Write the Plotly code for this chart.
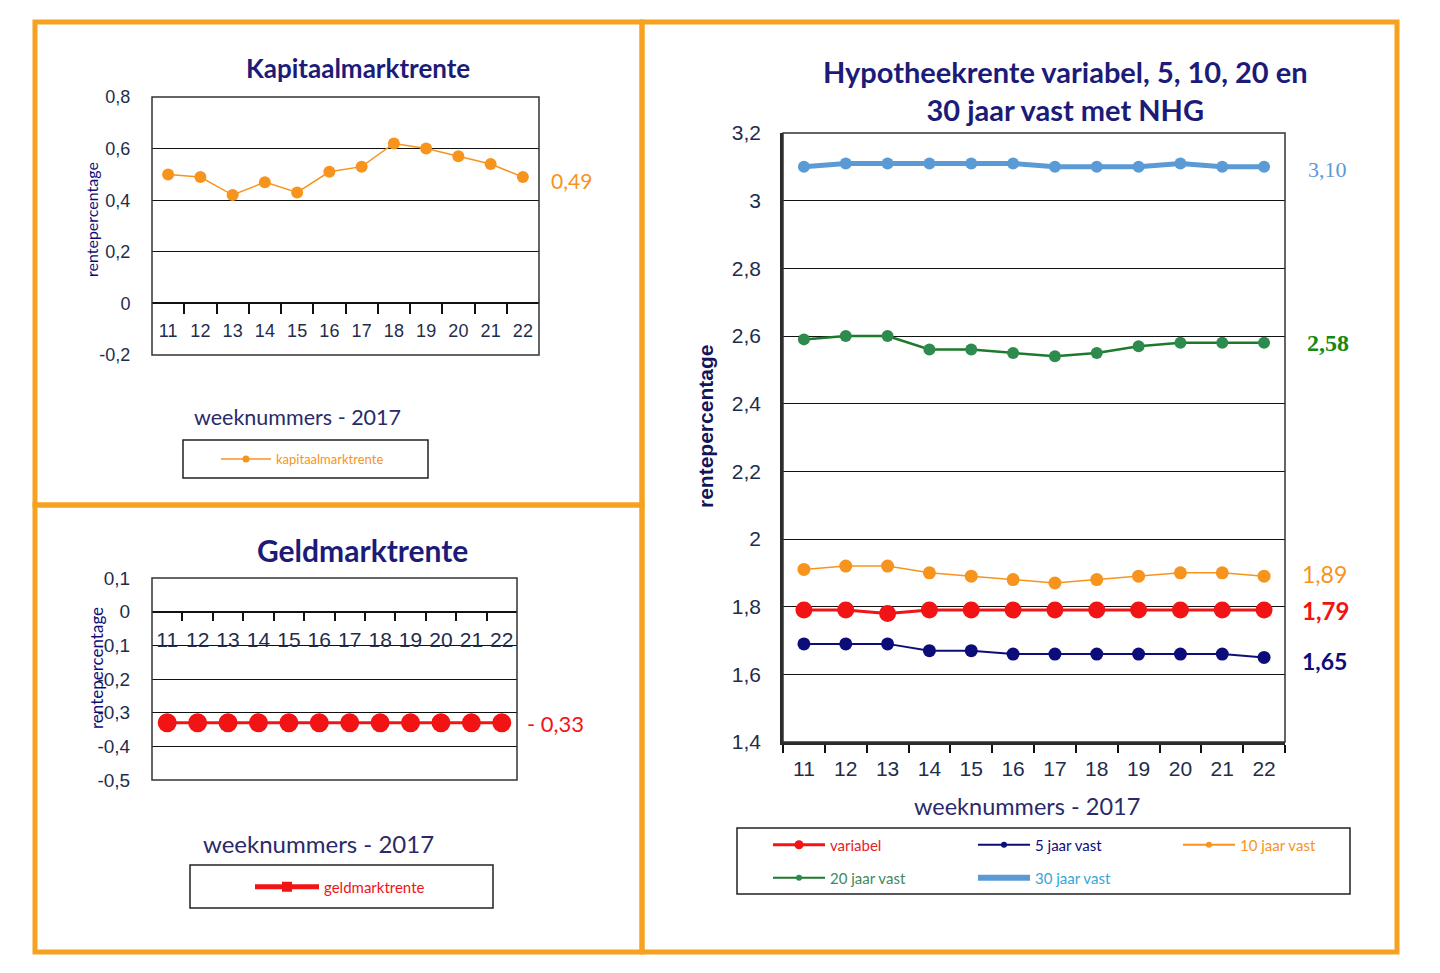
import plotly.graph_objects as go

# ---------------- data ----------------
weeks = [11, 12, 13, 14, 15, 16, 17, 18, 19, 20, 21, 22]
week_labels = ["11", "12", "13", "14", "15", "16", "17", "18", "19", "20", "21", "22"]

kapitaalmarktrente = [0.50, 0.49, 0.42, 0.47, 0.43, 0.51, 0.53, 0.62, 0.60, 0.57, 0.54, 0.49]
geldmarktrente = [-0.33, -0.33, -0.33, -0.33, -0.33, -0.33, -0.33, -0.33, -0.33, -0.33, -0.33, -0.33]

variabel = [1.79, 1.79, 1.78, 1.79, 1.79, 1.79, 1.79, 1.79, 1.79, 1.79, 1.79, 1.79]
vast_5 = [1.69, 1.69, 1.69, 1.67, 1.67, 1.66, 1.66, 1.66, 1.66, 1.66, 1.66, 1.65]
vast_10 = [1.91, 1.92, 1.92, 1.90, 1.89, 1.88, 1.87, 1.88, 1.89, 1.90, 1.90, 1.89]
vast_20 = [2.59, 2.60, 2.60, 2.56, 2.56, 2.55, 2.54, 2.55, 2.57, 2.58, 2.58, 2.58]
vast_30 = [3.10, 3.11, 3.11, 3.11, 3.11, 3.11, 3.10, 3.10, 3.10, 3.11, 3.10, 3.10]

kap_ticks = [-0.2, 0, 0.2, 0.4, 0.6, 0.8]
kap_ticklabels = ["-0,2", "0", "0,2", "0,4", "0,6", "0,8"]
geld_ticks = [-0.5, -0.4, -0.3, -0.2, -0.1, 0, 0.1]
geld_ticklabels = ["-0,5", "-0,4", "-0,3", "-0,2", "-0,1", "0", "0,1"]
hyp_ticks = [1.4, 1.6, 1.8, 2.0, 2.2, 2.4, 2.6, 2.8, 3.0, 3.2]
hyp_ticklabels = ["1,4", "1,6", "1,8", "2", "2,2", "2,4", "2,6", "2,8", "3", "3,2"]

# ---------------- style ----------------
W, H = 1440, 973
ORANGE = "#F7941D"
FRAME_ORANGE = "#F6A11F"
RED = "#F21414"
NAVY = "#0D0D7A"
GREEN = "#2E8B4E"
GREEN_LINE = "#1C7A2C"
LIGHTBLUE = "#5B9BD5"
TITLE_NAVY = "#1C1C78"
TICK_COL = "#1F2D4D"
SANS = "Lato"
ARIAL = "Liberation Sans, Arial"
SERIF = "Liberation Serif, Times New Roman"


def fx(px):
    return px / W


def fy(px):
    return 1 - px / H


boundaries = [w - 0.5 for w in weeks] + [weeks[-1] + 0.5]
xrange_ = [weeks[0] - 0.5, weeks[-1] + 0.5]

kap_dom_y = [fy(355), fy(97)]
geld_dom_y = [fy(780), fy(578)]
hyp_dom_y = [fy(742), fy(133)]


def zero_pos(dom, rng):
    return dom[0] + (0 - rng[0]) / (rng[1] - rng[0]) * (dom[1] - dom[0])


kap_range = [kap_ticks[0], kap_ticks[-1]]
geld_range = [geld_ticks[0], geld_ticks[-1]]
hyp_range = [hyp_ticks[0], hyp_ticks[-1]]

fig = go.Figure()

# ---- Kapitaalmarktrente ----
fig.add_trace(go.Scatter(x=weeks, y=kapitaalmarktrente, xaxis="x", yaxis="y",
                         mode="lines+markers", line=dict(color=ORANGE, width=1.5),
                         marker=dict(size=12, color=ORANGE), showlegend=False))
fig.add_trace(go.Scatter(x=[None], y=[None], xaxis="x", yaxis="y", mode="lines+markers",
                         line=dict(color=ORANGE, width=1.5), marker=dict(size=7, color=ORANGE),
                         name="kapitaalmarktrente", legend="legend"))

# ---- Geldmarktrente ----
fig.add_trace(go.Scatter(x=weeks, y=geldmarktrente, xaxis="x2", yaxis="y2",
                         mode="lines+markers", line=dict(color=RED, width=3),
                         marker=dict(size=19, color=RED), showlegend=False))
fig.add_trace(go.Scatter(x=[None], y=[None], xaxis="x2", yaxis="y2", mode="lines+markers",
                         line=dict(color=RED, width=5), marker=dict(size=10, color=RED, symbol="square"),
                         name="geldmarktrente", legend="legend2"))

# ---- Hypotheekrente ----
hyp_series = [
    ("variabel", variabel, RED, RED, 3, 17, "legend3", 3, 9),
    ("5 jaar vast", vast_5, NAVY, NAVY, 2, 13, "legend4", 2, 6),
    ("10 jaar vast", vast_10, ORANGE, ORANGE, 1.5, 13, "legend5", 2, 6),
    ("20 jaar vast", vast_20, GREEN_LINE, GREEN, 2.5, 12, "legend6", 2, 6),
    ("30 jaar vast", vast_30, LIGHTBLUE, LIGHTBLUE, 5, 12, "legend7", 6, 1),
]
for name, vals, lc, mc, lw, ms, lg, llw, lms in hyp_series:
    fig.add_trace(go.Scatter(x=weeks, y=vals, xaxis="x3", yaxis="y3", mode="lines+markers",
                             line=dict(color=lc, width=lw), marker=dict(size=ms, color=mc),
                             showlegend=False))
for name, vals, lc, mc, lw, ms, lg, llw, lms in hyp_series:
    fig.add_trace(go.Scatter(x=[None], y=[None], xaxis="x3", yaxis="y3", mode="lines+markers",
                             line=dict(color=lc, width=llw), marker=dict(size=lms, color=mc),
                             name=name, legend=lg))


def xaxis_cfg(domain, pos, ticklen_gap, minor_len, font_size, with_edges=False):
    d = dict(domain=domain, range=xrange_, tickmode="array", tickvals=weeks, ticktext=week_labels,
             ticks="outside", ticklen=ticklen_gap, tickcolor="rgba(0,0,0,0)",
             minor=dict(tickmode="array",
                        tickvals=boundaries if with_edges else boundaries[1:-1],
                        ticks="outside", ticklen=minor_len, tickcolor="#111", tickwidth=1.5,
                        showgrid=False),
             showline=True, linecolor="#111", linewidth=1.5, showgrid=False, zeroline=False,
             automargin=False,
             tickfont=dict(family=ARIAL, size=font_size, color=TICK_COL), fixedrange=True)
    if pos is not None:
        d.update(anchor="free", position=pos)
    return d


def yaxis_cfg(domain, rng, tv, tt, anchor, font_size, standoff):
    return dict(domain=domain, range=rng, tickmode="array", tickvals=tv, ticktext=tt,
                ticks="outside", ticklen=standoff, tickcolor="rgba(0,0,0,0)",
                showgrid=True, gridcolor="#111", gridwidth=1, zeroline=False,
                showline=False, anchor=anchor, automargin=False,
                tickfont=dict(family=ARIAL, size=font_size, color=TICK_COL), fixedrange=True)


layout = dict(
    width=W, height=H, margin=dict(l=0, r=0, t=0, b=0, pad=0, autoexpand=False),
    paper_bgcolor="white", plot_bgcolor="white",
    xaxis=xaxis_cfg([fx(152), fx(539)], zero_pos(kap_dom_y, kap_range), 11, 10, 18),
    yaxis=yaxis_cfg(kap_dom_y, kap_range, kap_ticks, kap_ticklabels, "x", 18, 17),
    xaxis2=xaxis_cfg([fx(152), fx(517)], zero_pos(geld_dom_y, geld_range), 9, 9, 21),
    yaxis2=yaxis_cfg(geld_dom_y, geld_range, geld_ticks, geld_ticklabels, "x2", 19, 17),
    xaxis3=xaxis_cfg([fx(783), fx(1285)], None, 6, 8, 21, with_edges=True),
    yaxis3=yaxis_cfg(hyp_dom_y, hyp_range, hyp_ticks, hyp_ticklabels, "x3", 21, 15),
)
layout["xaxis3"].update(anchor="y3", linewidth=2.5, linecolor="#2b2b2b")
layout["yaxis3"].update(showline=True, linewidth=2.5, linecolor="#2b2b2b")


def leg(xpx, ypx, color, size, itemwidth=48):
    return dict(x=fx(xpx), y=fy(ypx), xanchor="left", yanchor="middle", bgcolor="rgba(0,0,0,0)",
                borderwidth=0, font=dict(family=SANS, size=size, color=color), itemwidth=itemwidth,
                tracegroupgap=0)


layout["legend"] = leg(216, 459, ORANGE, 13, 50)
layout["legend2"] = leg(250, 887, RED, 15, 64)
layout["legend3"] = leg(768, 845, "#E8202A", 15, 52)
layout["legend4"] = leg(973, 845, NAVY, 15, 52)
layout["legend5"] = leg(1178, 845, ORANGE, 15, 52)
layout["legend6"] = leg(768, 878, "#3D8A5C", 15, 52)
layout["legend7"] = leg(973, 878, "#35A7D6", 15, 52)
fig.update_layout(**layout)

# ---------------- shapes ----------------
shapes = []
for (x0, y0, x1, y1) in [(35, 22, 642, 505), (35, 505, 642, 952), (642, 22, 1397, 952)]:
    shapes.append(dict(type="rect", xref="paper", yref="paper", x0=fx(x0), x1=fx(x1),
                       y0=fy(y1), y1=fy(y0), line=dict(color=FRAME_ORANGE, width=5), layer="below"))
for xa, ya, w in [("x", "y", 1.5), ("x2", "y2", 1.5), ("x3", "y3", 1.5)]:
    shapes.append(dict(type="rect", xref=f"{xa} domain", yref=f"{ya} domain", x0=0, x1=1, y0=0, y1=1,
                       line=dict(color="#333", width=w)))
for (x0, y0, x1, y1) in [(183, 440, 428, 478), (190, 865, 493, 908), (737, 828, 1350, 894)]:
    shapes.append(dict(type="rect", xref="paper", yref="paper", x0=fx(x0), x1=fx(x1),
                       y0=fy(y1), y1=fy(y0), line=dict(color="#222", width=1.5)))
fig.update_layout(shapes=shapes)

# ---------------- annotations ----------------
ann = []


def text(t, xpx, ypx, size, color, family=SANS, xanchor="center", angle=0, yref="paper", yval=None,
         yshift=0):
    ann.append(dict(text=t, x=fx(xpx), xref="paper", y=(fy(ypx) if yval is None else yval),
                    yref=yref, showarrow=False, xanchor=xanchor, yanchor="middle",
                    textangle=angle, yshift=yshift,
                    font=dict(family=family, size=size, color=color)))


def comma(v):
    return f"{v:.2f}".replace(".", ",")


text("<b>Kapitaalmarktrente</b>", 358, 68, 26, TITLE_NAVY)
text("<b>Geldmarktrente</b>", 362, 550, 30, TITLE_NAVY)
text("<b>Hypotheekrente variabel, 5, 10, 20 en</b><br><b>30 jaar vast met NHG</b>", 1065, 91, 29,
     TITLE_NAVY)
text("weeknummers - 2017", 297, 417, 21.5, "#2A2A6A")
text("weeknummers - 2017", 318, 843, 24, "#2A2A6A")
text("weeknummers - 2017", 1027, 806, 23.5, "#2A2A6A")
text("rentepercentage", 91, 220, 16, NAVY, angle=-90)
text("rentepercentage", 96, 668, 17, NAVY, angle=-90)
text("<b>rentepercentage</b>", 706, 427, 21, "#14145A", family=ARIAL, angle=-90)

text(comma(kapitaalmarktrente[-1]), 549, 0, 21, ORANGE, xanchor="left", yref="y",
     yval=kapitaalmarktrente[-1], yshift=-4)
text("- " + comma(abs(geldmarktrente[-1])), 525, 0, 22, RED, xanchor="left", yref="y2",
     yval=geldmarktrente[-1], yshift=-1)
text(comma(vast_30[-1]), 1306, 0, 22, LIGHTBLUE, family=SERIF, xanchor="left", yref="y3",
     yval=vast_30[-1], yshift=-3)
text("<b>" + comma(vast_20[-1]) + "</b>", 1305, 0, 24, "#138A13", family=SERIF, xanchor="left",
     yref="y3", yval=vast_20[-1])
text(comma(vast_10[-1]), 1300, 0, 23, ORANGE, xanchor="left", yref="y3", yval=vast_10[-1],
     yshift=2)
text("<b>" + comma(variabel[-1]) + "</b>", 1300, 0, 24, RED, xanchor="left", yref="y3",
     yval=variabel[-1])
text("<b>" + comma(vast_5[-1]) + "</b>", 1300, 0, 23, NAVY, xanchor="left", yref="y3",
     yval=vast_5[-1], yshift=-4)
fig.update_layout(annotations=ann)

fig.write_html("out.html", config={"displayModeBar": False},
               post_script="document.body.style.margin='0';document.body.style.overflow='hidden';")
